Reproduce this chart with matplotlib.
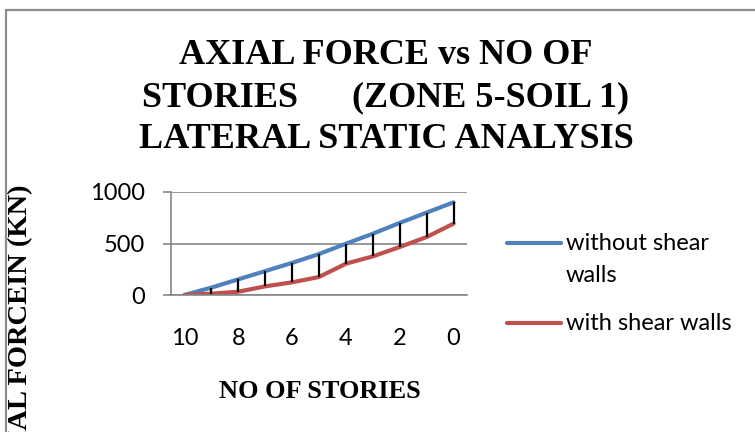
import matplotlib
matplotlib.use("Agg")
import matplotlib.pyplot as plt
from matplotlib.lines import Line2D
from matplotlib.patches import Rectangle

# ---- data ----
stories = [10, 9, 8, 7, 6, 5, 4, 3, 2, 1, 0]
without_shear = [0, 72, 152, 232, 312, 398, 498, 595, 700, 800, 900]
with_shear = [0, 13, 32, 84, 123, 175, 304, 375, 466, 563, 693]
series_labels = ["without shear\nwalls", "with shear walls"]
yticks = [0, 500, 1000]
title_lines = ["AXIAL FORCE vs NO OF", "STORIES      (ZONE 5-SOIL 1)", "LATERAL STATIC ANALYSIS"]
xlabel = "NO OF STORIES"
ylabel = "AXIAL FORCEIN (KN)"

BLUE = "#4F81BD"
RED = "#C0504D"
GRID = "#868686"
W, H = 755, 432

fig = plt.figure(figsize=(W / 100, H / 100), dpi=100)

def fx(px):
    return px / W

def fy(py):
    return 1 - py / H

# chart border (extends beyond the image on the right and bottom)
fig.add_artist(Rectangle((fx(6), -0.2), 1.3, fy(10) + 0.2, transform=fig.transFigure,
                         fill=False, edgecolor="#8c8c8c", linewidth=1.6))

ax = fig.add_axes([fx(171), fy(295), fx(467) - fx(171), fy(192) - fy(295)])
x = list(range(len(stories)))

# high-low style vertical lines between series
ax.vlines(x[1:], with_shear[1:], without_shear[1:], color="black", linewidth=1.6, zorder=3)
ax.plot(x, without_shear, color=BLUE, linewidth=3.0, solid_capstyle="round", zorder=2)
ax.plot(x, with_shear, color=RED, linewidth=3.0, solid_capstyle="round", zorder=2)

ax.set_xlim(-0.5, len(stories) - 0.5)
ax.set_ylim(0, 1000)
ax.set_yticks(yticks)
ax.set_yticklabels([str(v) for v in yticks], family="Lato", fontsize=17)
ax.set_xticks(x[::2])
ax.set_xticklabels([str(s) for s in stories[::2]], family="Lato", fontsize=17)
ax.tick_params(axis="y", length=6, width=1.2, color=GRID, pad=13)
ax.tick_params(axis="x", length=0, pad=24)
ax.grid(axis="y", color=GRID, linewidth=1.2)
ax.set_axisbelow(True)
for s in ["top", "right"]:
    ax.spines[s].set_visible(False)
ax.spines["left"].set_color(GRID)
ax.spines["left"].set_linewidth(1.2)
ax.spines["bottom"].set_color(GRID)
ax.spines["bottom"].set_linewidth(1.2)

# title
for line, base in zip(title_lines, [64, 106, 148]):
    fig.text(fx(386), fy(base), line, family="Liberation Serif", weight="bold",
             fontsize=26, ha="center", va="baseline")

# axis titles
fig.text(fx(320), fy(398), xlabel, family="Liberation Serif", weight="bold",
         fontsize=19, ha="center", va="baseline")
fig.text(fx(21), fy(185), ylabel, family="Liberation Serif", weight="bold",
         fontsize=20.5, ha="center", va="top", rotation=90)

# legend (manual, Excel-like)
for color, label, ly in zip([BLUE, RED], series_labels, [243, 323]):
    fig.add_artist(Line2D([fx(507), fx(561)], [fy(ly), fy(ly)], color=color,
                          linewidth=3.0, solid_capstyle="round", transform=fig.transFigure))
    lines = label.split("\n")
    for k, t in enumerate(lines):
        fig.text(fx(566), fy(ly + 33 * k), t, family="Lato", fontsize=17,
                 ha="left", va="center")

fig.savefig("out.png", dpi=100)
